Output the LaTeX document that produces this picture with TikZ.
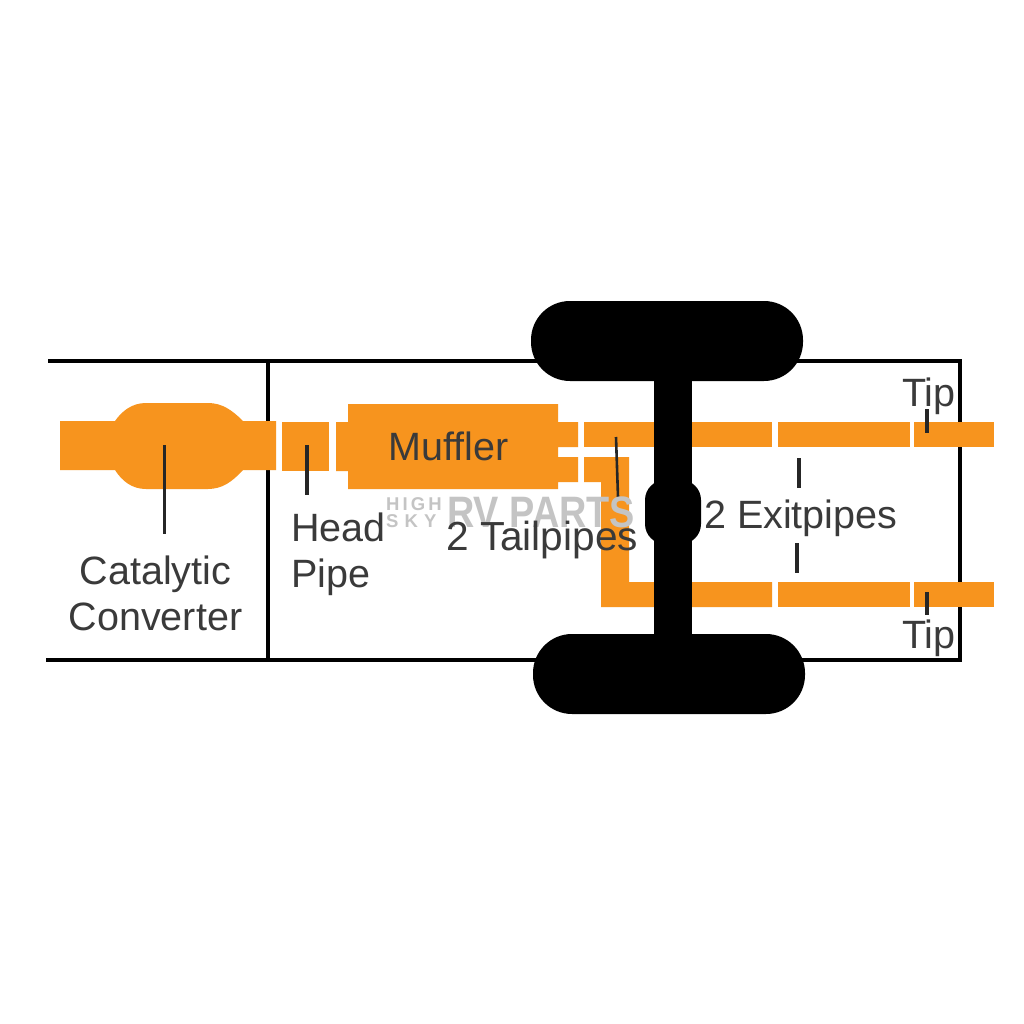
\documentclass[tikz,border=0pt]{standalone}
\usepackage{fontspec}
\setmainfont{Liberation Sans}
\definecolor{pipeor}{HTML}{F7941E}
\definecolor{labelgr}{HTML}{3A3A3A}
\definecolor{wm}{HTML}{C4C4C4}
\tikzset{
  frameline/.style={draw=black,line width=3.5pt},
  pipe/.style={fill=pipeor,draw=none},
  blk/.style={fill=black,draw=none},
  leader/.style={draw=black!85,line width=3.6pt},
  thinleader/.style={draw=black!85,line width=2.6pt},
  lab/.style={text=labelgr,inner sep=0pt,font=\fontsize{39.5}{46}\selectfont,align=left},
  labw/.style={text=labelgr,inner sep=0pt,font=\fontsize{40.6}{46}\selectfont,align=left},
  labc/.style={text=labelgr,inner sep=0pt,font=\fontsize{39.5}{46}\selectfont,align=center},
  wmbig/.style={text=wm,inner sep=0pt,font=\fontsize{44}{44}\selectfont\bfseries},
  wmsmall/.style={text=wm,inner sep=0pt,font=\fontsize{18.5}{18.5}\selectfont\bfseries},
}
\begin{document}
\begin{tikzpicture}[x=1pt,y=-1pt]
\useasboundingbox (0,0) rectangle (1024,1024);
\fill[white] (0,0) rectangle (1024,1024);
% frame
\draw[frameline] (48,361) -- (960,361) -- (960,660) -- (46,660);
\draw[frameline] (268,361) -- (268,660);
% catalytic converter
\fill[pipe] (60,421) -- (115,421) .. controls (122,411) and (132,403) .. (146,403)
  -- (208,403) .. controls (222,403) and (232,410) .. (243,421) -- (276,421) -- (276,470)
  -- (243,470) .. controls (232,482) and (222,489) .. (208,489) -- (146,489)
  .. controls (132,489) and (122,481) .. (115,470) -- (60,470) -- cycle;
% head pipe
\fill[pipe] (282,422) rectangle (329,471);
% muffler
\fill[pipe] (336,422) -- (348,422) -- (348,404) -- (558,404) -- (558,422) -- (578,422)
  -- (578,447) -- (558,447) -- (558,457) -- (578,457) -- (578,482) -- (558,482)
  -- (558,489) -- (348,489) -- (348,471) -- (336,471) -- cycle;
% upper pipes
\fill[pipe] (584,421.5) rectangle (772,447);
\fill[pipe] (778,421.5) rectangle (910,447);
\fill[pipe] (914,421.5) rectangle (994,447);
% lower tailpipe and pipes
\fill[pipe] (584,457) -- (629,457) -- (629,582) -- (772,582) -- (772,607) -- (601,607)
  -- (601,482) -- (584,482) -- cycle;
\fill[pipe] (778,582) rectangle (910,607);
\fill[pipe] (914,582) rectangle (994,607);
% axle and tyres
\fill[blk] (654,350) rectangle (692,650);
\fill[blk,rounded corners=20pt] (645,480) rectangle (701,544);
\fill[blk,rounded corners=39pt] (531,301) rectangle (803,381);
\fill[blk,rounded corners=39pt] (533,634) rectangle (805,714);
% leader end points
\coordinate (c1) at (164.5,445); \coordinate (c2) at (164.5,534);
\coordinate (h1) at (307,445);   \coordinate (h2) at (307,495);
\coordinate (t1) at (616,437);   \coordinate (t2) at (618,497);
\coordinate (e1) at (799,458);   \coordinate (e2) at (799,488);
\coordinate (e3) at (797,543);   \coordinate (e4) at (797,573);
\coordinate (p1) at (927,409);   \coordinate (p2) at (927,433);
\coordinate (q1) at (927,592);   \coordinate (q2) at (927,615);
\draw[leader] (c1) -- (c2);
\draw[leader] (h1) -- (h2);
\draw[thinleader] (t1) -- (t2);
\draw[leader] (e1) -- (e2);
\draw[leader] (e3) -- (e4);
\draw[leader] (p1) -- (p2);
\draw[leader] (q1) -- (q2);
% watermark
\node[wmbig,anchor=base west] (wmrv) at (447,527) {\scalebox{0.86}[1]{RV PARTS}};
\node[wmsmall,anchor=base west] (wmhigh) at (386,510) {H\,I\,G\,H};
\node[wmsmall,anchor=base west] (wmsky) at (386,527) {S\,\,K\,\,Y};
% labels
\node[labc] (cat) at (155.5,593) {Catalytic\\Converter};
\node[lab,anchor=base west] (head) at (291,541) {Head};
\node[lab,anchor=base west] (pipe) at (291,587) {Pipe};
\node[lab,anchor=base west] (muf) at (388,460) {Muffler};
\node[labw,anchor=base west] (tail) at (446,550) {2 Tailpipes};
\node[lab,anchor=base west] (exit) at (704,528) {2 Exitpipes};
\node[lab,anchor=base west] (tip1) at (902,406) {Tip};
\node[lab,anchor=base west] (tip2) at (902,648) {Tip};
\end{tikzpicture}
\end{document}
